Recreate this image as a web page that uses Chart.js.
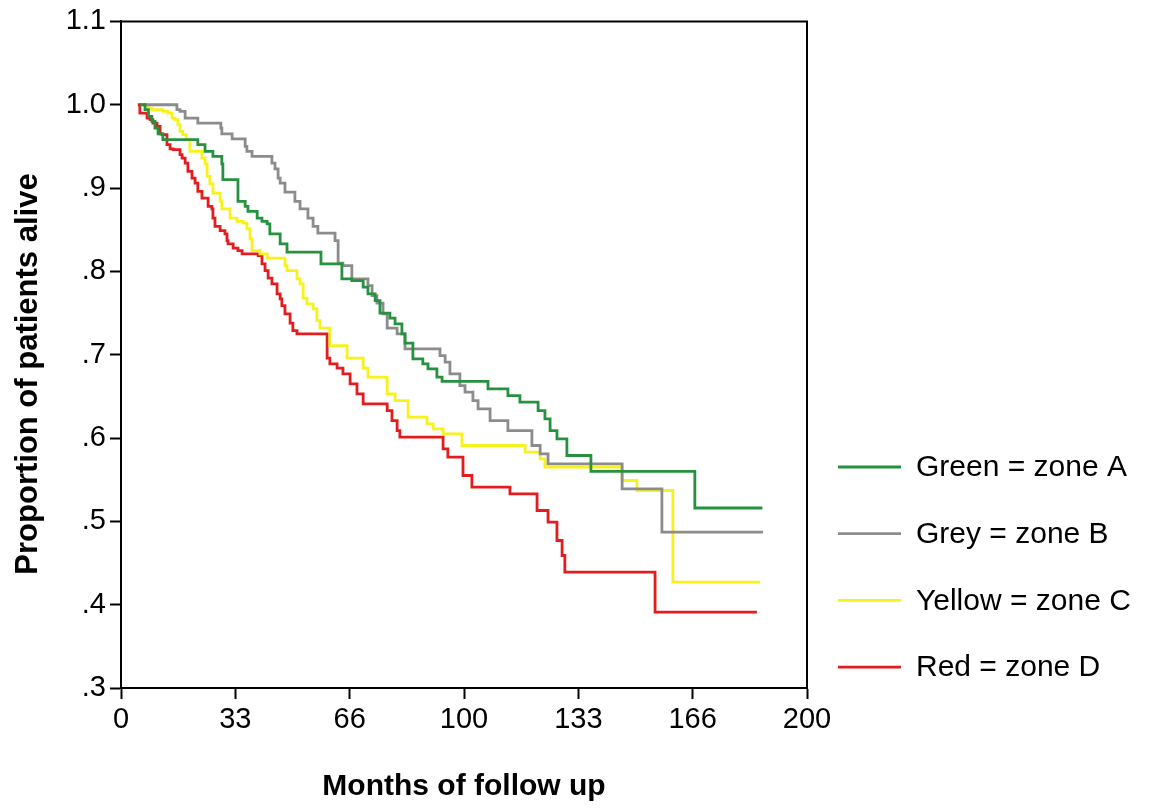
<!DOCTYPE html>
<html>
<head>
<meta charset="utf-8">
<title>Survival by zone</title>
<script src="https://cdn.jsdelivr.net/npm/chart.js@4.4.1/dist/chart.umd.min.js"></script>
<style>
  html, body { margin: 0; padding: 0; background: #fff; }
  #wrap { width: 1156px; height: 812px; }
</style>
</head>
<body>
<div id="wrap"><canvas id="survChart" width="1156" height="812"></canvas></div>
<script>
/* ── data ── */
const seriesNames = ['Green = zone A', 'Grey = zone B', 'Yellow = zone C', 'Red = zone D'];

const greenMonths = [5.5, 7.0, 8.0, 9.0, 9.9, 10.8, 12.2, 22.4, 24.5, 26.8, 29.4, 29.7, 34.1, 36.2, 37.0, 39.7, 41.1, 42.6, 43.4, 46.4, 48.4, 58.3, 64.4, 67.3, 70.6, 72.0, 74.1, 75.5, 78.4, 79.9, 81.9, 82.8, 85.1, 88.0, 89.5, 92.1, 93.6, 107.0, 112.8, 116.3, 121.6, 123.6, 125.1, 127.1, 130.0, 137.0, 167.3, 187.0];
const greenSurv = [1.0, .994, .986, .980, .972, .965, .958, .952, .944, .938, .929, .910, .884, .878, .872, .864, .860, .857, .845, .833, .823, .809, .791, .789, .781, .773, .765, .750, .744, .737, .725, .714, .695, .689, .683, .673, .668, .659, .651, .643, .633, .623, .609, .599, .579, .560, .516, .516];

const greyMonths = [6.4, 16.3, 17.2, 18.7, 22.4, 29.1, 29.4, 32.4, 36.2, 36.7, 38.2, 44.0, 44.9, 45.8, 46.4, 47.8, 50.7, 52.2, 54.5, 56.0, 57.4, 62.4, 63.3, 64.7, 67.3, 72.0, 73.2, 74.6, 76.4, 77.6, 80.5, 82.8, 93.0, 94.5, 95.9, 98.8, 100.3, 102.6, 104.1, 107.6, 112.8, 119.8, 122.2, 124.5, 146.1, 157.7, 187.2];
const greySurv = [1.0, .994, .992, .984, .978, .972, .965, .959, .950, .944, .938, .930, .923, .912, .906, .895, .884, .875, .864, .854, .846, .837, .810, .807, .791, .783, .771, .762, .749, .732, .725, .707, .699, .691, .677, .663, .655, .645, .635, .621, .609, .591, .581, .569, .539, .487, .487];

const yellowMonths = [6.1, 7.6, 8.0, 9.0, 12.2, 13.7, 14.9, 15.7, 16.6, 17.2, 18.0, 19.0, 20.1, 23.6, 24.5, 25.1, 25.9, 26.8, 28.9, 29.4, 31.8, 33.8, 35.6, 36.7, 37.6, 38.2, 40.5, 42.6, 47.8, 48.4, 51.3, 52.2, 53.1, 54.2, 56.0, 57.1, 58.0, 60.9, 65.9, 70.6, 72.0, 77.6, 79.9, 83.7, 89.2, 91.0, 93.9, 99.4, 117.8, 122.2, 123.6, 146.1, 150.4, 160.9, 186.3];
const yellowSurv = [1.0, .998, .996, .994, .992, .990, .984, .982, .976, .968, .964, .958, .944, .936, .929, .914, .905, .894, .884, .875, .864, .860, .858, .851, .839, .825, .821, .816, .807, .801, .791, .785, .768, .761, .755, .741, .732, .711, .696, .684, .673, .653, .645, .625, .617, .611, .605, .591, .583, .575, .565, .549, .537, .427, .427];

const redMonths = [4.9, 5.5, 7.6, 8.5, 9.3, 10.5, 11.4, 12.0, 13.4, 14.3, 15.2, 17.2, 17.8, 18.7, 19.5, 20.7, 21.6, 22.4, 23.6, 25.4, 26.5, 26.8, 27.4, 28.9, 30.3, 30.9, 31.2, 32.7, 34.1, 35.3, 40.0, 41.1, 42.0, 42.9, 44.0, 45.5, 46.4, 46.9, 47.8, 49.3, 50.1, 51.3, 60.1, 60.9, 63.0, 64.7, 66.8, 68.8, 70.6, 77.6, 79.0, 80.5, 81.3, 93.9, 95.3, 99.7, 102.3, 113.4, 121.3, 124.5, 127.1, 128.6, 129.4, 155.7, 185.4];
const redSurv = [1.0, .990, .984, .982, .978, .974, .965, .964, .952, .947, .946, .940, .936, .930, .920, .912, .906, .896, .888, .878, .875, .864, .854, .849, .845, .837, .833, .828, .825, .821, .819, .809, .801, .792, .785, .773, .767, .759, .749, .738, .729, .725, .696, .689, .684, .677, .665, .653, .641, .633, .621, .609, .601, .587, .577, .555, .541, .533, .513, .499, .477, .459, .439, .391, .391];

const xTickValues = [0, 200 / 6, 400 / 6, 100, 800 / 6, 1000 / 6, 200];
const xTickLabels = ['0', '33', '66', '100', '133', '166', '200'];
const yTickValues = [.3, .4, .5, .6, .7, .8, .9, 1.0, 1.1];
const yTickLabels = ['.3', '.4', '.5', '.6', '.7', '.8', '.9', '1.0', '1.1'];

const yAxisTitle = 'Proportion of patients alive';

/* ── helpers ── */
function toPoints(months, surv) {
    return months.map((m, i) => ({ x: m, y: surv[i] }));
}

function makeSeries(label, months, surv, color) {
    return {
        label: label,
        data: toPoints(months, surv),
        borderColor: color,
        backgroundColor: color,
        borderWidth: 2.8,
        stepped: true,
        pointRadius: 0,
        fill: false
    };
}

const FONT = "'Liberation Sans', Arial, Helvetica, sans-serif";
Chart.defaults.font.family = FONT;
Chart.defaults.color = '#000';

// top + right border of the plot box
const frameBox = {
    id: 'frameBox',
    afterDatasetsDraw(chart) {
        const { ctx, chartArea: a } = chart;
        ctx.save();
        ctx.strokeStyle = '#000';
        ctx.lineWidth = 2;
        ctx.beginPath();
        ctx.moveTo(a.left, a.top);
        ctx.lineTo(a.right, a.top);
        ctx.lineTo(a.right, a.bottom);
        ctx.stroke();
        ctx.restore();
    }
};

// y title sits a bit below the plot centre in the original
const yTitle = {
    id: 'yTitle',
    afterDraw(chart) {
        const { ctx } = chart;
        ctx.save();
        ctx.translate(28, 374);
        ctx.rotate(-Math.PI / 2);
        ctx.font = 'bold 31px ' + FONT;
        ctx.textAlign = 'center';
        ctx.textBaseline = 'middle';
        ctx.fillStyle = '#000';
        ctx.fillText(yAxisTitle, 0, 0);
        ctx.restore();
    }
};

// legend at lower right, line sample + label
const sideLegend = {
    id: 'sideLegend',
    afterDraw(chart) {
        const { ctx, chartArea: a } = chart;
        const x0 = a.right + 31;
        const y0 = 467;
        const gap = 66.7;
        ctx.save();
        ctx.font = '30px ' + FONT;
        ctx.textBaseline = 'middle';
        ctx.fillStyle = '#000';
        chart.data.datasets.forEach((ds, i) => {
            const y = y0 + i * gap;
            ctx.strokeStyle = ds.borderColor;
            ctx.lineWidth = 2.8;
            ctx.beginPath();
            ctx.moveTo(x0, y);
            ctx.lineTo(x0 + 63, y);
            ctx.stroke();
            ctx.fillText(ds.label, x0 + 78, y + 1);
        });
        ctx.restore();
    }
};

const survChart = new Chart(document.getElementById('survChart'), {
    type: 'line',
    data: {
        datasets: [
            makeSeries(seriesNames[0], greenMonths, greenSurv, '#26913f'),
            makeSeries(seriesNames[1], greyMonths, greySurv, '#8c8c8c'),
            makeSeries(seriesNames[2], yellowMonths, yellowSurv, '#f7f21a'),
            makeSeries(seriesNames[3], redMonths, redSurv, '#e31c1f')
        ]
    },
    options: {
        responsive: false,
        animation: false,
        devicePixelRatio: 1,
        layout: { padding: { left: 0, top: 20, right: 349, bottom: 3 } },
        plugins: {
            legend: { display: false },
            tooltip: { enabled: false }
        },
        scales: {
            x: {
                type: 'linear',
                min: 0,
                max: 200,
                afterBuildTicks: s => { s.ticks = xTickValues.map(v => ({ value: v })); },
                afterFit: s => { s.height = 121; },
                border: { display: true, color: '#000', width: 2 },
                grid: { drawOnChartArea: false, drawTicks: true, tickLength: 11, tickWidth: 2, tickColor: '#000' },
                ticks: {
                    font: { size: 29 },
                    padding: 4,
                    maxRotation: 0,
                    callback: (v, i) => xTickLabels[i]
                },
                title: {
                    display: true,
                    text: 'Months of follow up',
                    font: { size: 30, weight: 'bold' },
                    padding: 4
                }
            },
            y: {
                type: 'linear',
                min: 0.3,
                max: 1.1,
                afterBuildTicks: s => { s.ticks = yTickValues.map(v => ({ value: v })); },
                afterFit: s => { s.width = 121; },
                border: { display: true, color: '#000', width: 2 },
                grid: { drawOnChartArea: false, drawTicks: true, tickLength: 11, tickWidth: 2, tickColor: '#000' },
                ticks: {
                    font: { size: 29 },
                    padding: 4,
                    callback: (v, i) => yTickLabels[i]
                }
            }
        }
    },
    plugins: [frameBox, yTitle, sideLegend]
});
</script>
</body>
</html>
